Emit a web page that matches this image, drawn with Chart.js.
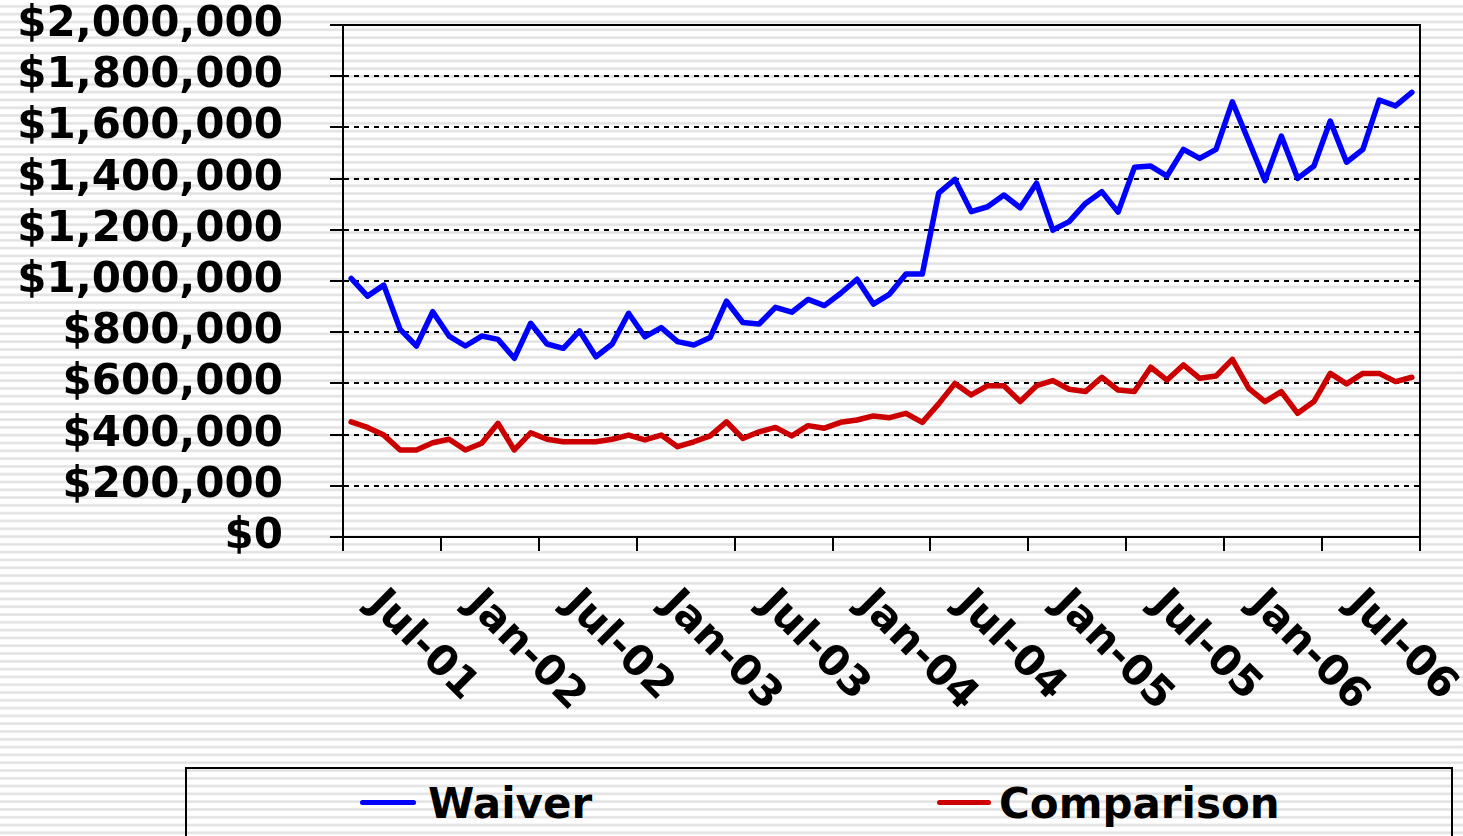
<!DOCTYPE html>
<html>
<head>
<meta charset="utf-8">
<script src="https://cdn.jsdelivr.net/npm/chart.js@4/dist/chart.umd.min.js"></script>
<style>
  html, body { margin: 0; padding: 0; }
  body {
    width: 1463px; height: 836px; overflow: hidden; position: relative;
    background: repeating-linear-gradient(to bottom,
      #ffffff 0px, #ffffff 5px, #ececec 5px, #e0e0e0 6.5px, #ececec 8px);
    background-size: 100% 7.8px;
    font-family: "DejaVu Sans", sans-serif;
  }
  #chart { position: absolute; left: 0; top: 0; }
  .legend {
    position: absolute; left: 185px; top: 767px; width: 1268px; height: 100px;
    border: 2px solid #000; box-sizing: border-box;
  }
  .swatch { position: absolute; height: 5px; border-radius: 3px; }
  .label { position: absolute; font: bold 42px "DejaVu Sans"; line-height: 1; color: #000; white-space: nowrap; }
</style>
</head>
<body>
<canvas id="chart" width="1463" height="760"></canvas>
<div class="legend">
  <span class="swatch" style="left:173px; top:31px; width:56px; background:#0000ff"></span>
  <span class="label" style="left:241px; top:14px">Waiver</span>
  <span class="swatch" style="left:750px; top:31px; width:54px; background:#cc0000"></span>
  <span class="label" style="left:812px; top:14px">Comparison</span>
</div>
<script>
// ----------------------------
// Data (monthly, Jul-01 .. Dec-06)
// ----------------------------
var months = [
  'Jul-01', 'Aug-01', 'Sep-01', 'Oct-01', 'Nov-01', 'Dec-01',
  'Jan-02', 'Feb-02', 'Mar-02', 'Apr-02', 'May-02', 'Jun-02', 'Jul-02', 'Aug-02', 'Sep-02', 'Oct-02', 'Nov-02', 'Dec-02',
  'Jan-03', 'Feb-03', 'Mar-03', 'Apr-03', 'May-03', 'Jun-03', 'Jul-03', 'Aug-03', 'Sep-03', 'Oct-03', 'Nov-03', 'Dec-03',
  'Jan-04', 'Feb-04', 'Mar-04', 'Apr-04', 'May-04', 'Jun-04', 'Jul-04', 'Aug-04', 'Sep-04', 'Oct-04', 'Nov-04', 'Dec-04',
  'Jan-05', 'Feb-05', 'Mar-05', 'Apr-05', 'May-05', 'Jun-05', 'Jul-05', 'Aug-05', 'Sep-05', 'Oct-05', 'Nov-05', 'Dec-05',
  'Jan-06', 'Feb-06', 'Mar-06', 'Apr-06', 'May-06', 'Jun-06', 'Jul-06', 'Aug-06', 'Sep-06', 'Oct-06', 'Nov-06', 'Dec-06'
];

var tickLabels = ['Jul-01', 'Jan-02', 'Jul-02', 'Jan-03', 'Jul-03', 'Jan-04',
                  'Jul-04', 'Jan-05', 'Jul-05', 'Jan-06', 'Jul-06'];

var waiver = [
  1010000, 941000, 984000, 811000, 746000, 880000, 785000, 746000, 785000, 772000,
  698000, 835000, 754000, 737000, 805000, 704000, 754000, 874000, 782000, 818000,
  763000, 750000, 779000, 921000, 838000, 832000, 897000, 878000, 928000, 904000,
  952000, 1007000, 910000, 949000, 1027000, 1027000, 1343000, 1397000, 1271000, 1290000,
  1336000, 1286000, 1382000, 1199000, 1232000, 1303000, 1349000, 1269000, 1444000, 1449000,
  1410000, 1514000, 1479000, 1514000, 1700000, 1547000, 1392000, 1566000, 1401000, 1449000,
  1625000, 1464000, 1514000, 1707000, 1684000, 1737000
];

var comparison = [
  450000, 428000, 398000, 340000, 340000, 368000, 382000, 340000, 366000, 444000,
  340000, 407000, 382000, 372000, 372000, 372000, 382000, 398000, 379000, 398000,
  353000, 372000, 395000, 450000, 385000, 411000, 428000, 395000, 435000, 425000,
  448000, 457000, 473000, 466000, 483000, 448000, 520000, 600000, 555000, 591000,
  591000, 529000, 591000, 611000, 577000, 568000, 624000, 574000, 568000, 663000,
  613000, 672000, 620000, 629000, 694000, 581000, 529000, 568000, 483000, 529000,
  639000, 598000, 639000, 639000, 607000, 624000
];

var LABEL_FONT = 'bold 42px "DejaVu Sans"';

// ----------------------------
// Plugins: plot frame + slanted month labels
// ----------------------------
var plotFrame = {
  id: 'plotFrame',
  beforeDatasetsDraw: function (chart) {
    var a = chart.chartArea, ctx = chart.ctx;
    ctx.save();
    ctx.strokeStyle = '#000';
    ctx.lineWidth = 2;
    ctx.strokeRect(a.left, a.top, a.right - a.left, a.bottom - a.top);
    ctx.restore();
  }
};

var slantLabels = {
  id: 'slantLabels',
  afterDraw: function (chart) {
    var xs = chart.scales.x, ctx = chart.ctx;
    ctx.save();
    ctx.font = LABEL_FONT;
    ctx.fillStyle = '#000';
    ctx.textAlign = 'left';
    ctx.textBaseline = 'middle';
    tickLabels.forEach(function (lbl) {
      var px = xs.getPixelForValue(months.indexOf(lbl));
      ctx.save();
      ctx.translate(px + 23, 598);
      ctx.rotate(Math.PI / 4);
      ctx.fillText(lbl, 0, 0);
      ctx.restore();
    });
    ctx.restore();
  }
};

new Chart(document.getElementById('chart').getContext('2d'), {
  type: 'line',
  data: {
    labels: months,
    datasets: [
      { label: 'Waiver', data: waiver, borderColor: '#0000ff', backgroundColor: '#0000ff',
        borderWidth: 5.5, pointRadius: 0, tension: 0, borderCapStyle: 'round', borderJoinStyle: 'round' },
      { label: 'Comparison', data: comparison, borderColor: '#cc0000', backgroundColor: '#cc0000',
        borderWidth: 5.5, pointRadius: 0, tension: 0, borderCapStyle: 'round', borderJoinStyle: 'round' }
    ]
  },
  options: {
    responsive: false,
    animation: false,
    devicePixelRatio: 1,
    layout: { padding: { left: 0, right: 43, top: 25, bottom: 0 } },
    plugins: { legend: { display: false }, tooltip: { enabled: false } },
    scales: {
      x: {
        offset: true,
        ticks: { display: false, autoSkip: false },
        grid: {
          offset: true,
          drawOnChartArea: false,
          drawTicks: true,
          tickLength: 14,
          lineWidth: 2,
          color: function (c) {
            return (c.type === 'scale' || c.index % 6 === 0) ? '#000' : 'rgba(0,0,0,0)';
          }
        },
        border: { display: true, color: '#000', width: 2 },
        afterFit: function (s) { s.height = 760 - 537; s.paddingTop = 0; s.paddingBottom = 0; }
      },
      y: {
        min: 0,
        max: 2000000,
        ticks: {
          stepSize: 200000,
          padding: 47,
          color: '#000',
          font: { family: 'DejaVu Sans', size: 42, weight: 'bold', lineHeight: 1 },
          callback: function (v) { return '$' + Number(v).toLocaleString('en-US'); }
        },
        grid: { color: '#000', lineWidth: 2, tickLength: 13, tickColor: '#000' },
        border: { display: true, color: '#000', width: 2, dash: [5, 5] },
        afterFit: function (s) { s.width = 343; s.paddingTop = 0; s.paddingBottom = 0; }
      }
    }
  },
  plugins: [plotFrame, slantLabels]
});
</script>
</body>
</html>
